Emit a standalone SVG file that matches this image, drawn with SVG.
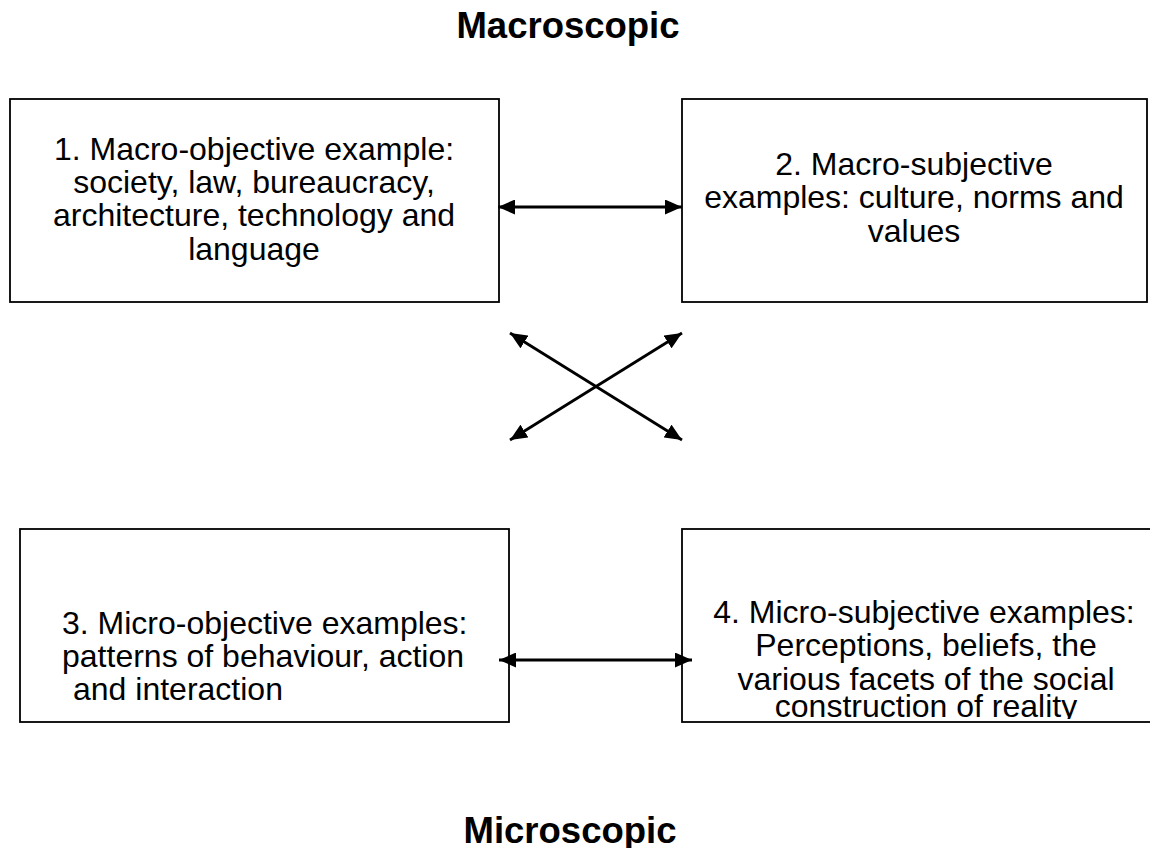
<svg xmlns="http://www.w3.org/2000/svg" width="1150" height="848" viewBox="0 0 1150 848">
<style>
.box{fill:#fff;stroke:#000;stroke-width:1.8}
.t{font-family:"Liberation Sans",Arial,sans-serif;font-size:32px;fill:#000}
.c{text-anchor:middle}
.h{font-family:"Liberation Sans",Arial,sans-serif;font-size:36.5px;font-weight:bold;text-anchor:middle;fill:#000}
.a{stroke:#000;stroke-width:2.8;fill:none;marker-start:url(#ah);marker-end:url(#ah)}
</style>
<defs>
<marker id="ah" viewBox="0 0 17 15" refX="17" refY="7.5" markerWidth="17" markerHeight="15" markerUnits="userSpaceOnUse" orient="auto-start-reverse">
<path d="M0,0 L17,7.5 L0,15 z" fill="#000"/>
</marker>
<clipPath id="clip4"><rect x="682" y="529" width="480" height="190"/></clipPath>
</defs>
<rect width="1150" height="848" fill="#fff"/>
<g id="title-macro"><text class="h" x="568" y="38">Macroscopic</text></g>
<g id="title-micro"><text class="h" x="570" y="843">Microscopic</text></g>
<g id="node1">
<rect class="box" x="10" y="99" width="489" height="203"/>
<text class="t c" x="254" y="160">1. Macro-objective example:</text>
<text class="t c" x="254" y="193">society, law, bureaucracy,</text>
<text class="t c" x="254" y="226">architecture, technology and</text>
<text class="t c" x="254" y="260">language</text>
</g>
<g id="node2">
<rect class="box" x="682" y="99" width="465" height="203"/>
<text class="t c" x="914" y="175">2. Macro-subjective</text>
<text class="t c" x="914" y="208">examples: culture, norms and</text>
<text class="t c" x="914" y="242">values</text>
</g>
<g id="node3">
<rect class="box" x="20" y="529" width="489" height="193"/>
<text class="t" x="62" y="634">3. Micro-objective examples:</text>
<text class="t" x="62" y="667">patterns of behaviour, action</text>
<text class="t" x="73" y="700">and interaction</text>
</g>
<g id="node4">
<rect class="box" x="682" y="529" width="480" height="193"/>
<g clip-path="url(#clip4)">
<text class="t c" x="924" y="623">4. Micro-subjective examples:</text>
<text class="t c" x="926" y="656">Perceptions, beliefs, the</text>
<text class="t c" x="926" y="690">various facets of the social</text>
<text class="t c" x="926" y="717">construction of reality</text>
</g>
</g>
<g id="connectors">
<line class="a" x1="498" y1="207" x2="682" y2="207"/>
<line class="a" x1="499" y1="660" x2="692" y2="660"/>
<line class="a" x1="510" y1="333" x2="682" y2="440"/>
<line class="a" x1="510" y1="440" x2="682" y2="333"/>
</g>
</svg>
